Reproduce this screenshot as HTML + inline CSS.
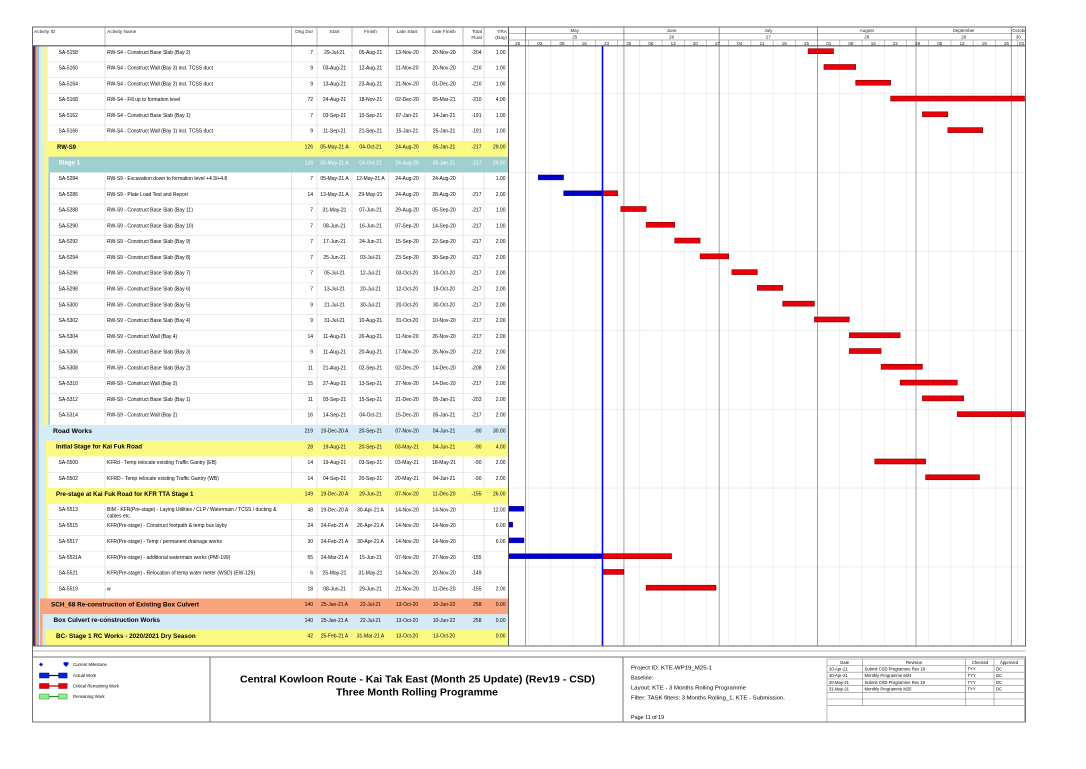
<!DOCTYPE html>
<html>
<head>
<meta charset="utf-8">
<style>
html,body{margin:0;padding:0;background:#fff;}
svg{display:block;}
text{font-family:"Liberation Sans",Arial,sans-serif;font-size:5px;fill:#000;}
.g{font-weight:bold;font-size:6.2px;}
.e{text-anchor:end;}
.m{text-anchor:middle;}
.h{font-size:4.8px;fill:#222;}
.gh{font-size:4.5px;fill:#222;}
.w{fill:#fff;}
.lg{font-size:4.3px;}
.pi{font-size:5.4px;}
.rv{font-size:4.2px;}
.tt{font-weight:bold;font-size:10px;}
</style>
</head>
<body>
<svg width="1086" height="769" viewBox="0 0 1086 769" xmlns="http://www.w3.org/2000/svg">
<rect x="0" y="0" width="1086" height="769" fill="#fff"/>

<!-- table vertical separators -->
<g stroke="#d4d4d4" stroke-width="0.6">
<line x1="105" y1="46" x2="105" y2="646"/>
<line x1="291.5" y1="46" x2="291.5" y2="646"/>
<line x1="317" y1="46" x2="317" y2="646"/>
<line x1="352" y1="46" x2="352" y2="646"/>
<line x1="388.5" y1="46" x2="388.5" y2="646"/>
<line x1="425" y1="46" x2="425" y2="646"/>
<line x1="463" y1="46" x2="463" y2="646"/>
<line x1="484" y1="46" x2="484" y2="646"/>
</g>
<!-- table row separators -->
<g stroke="#dadada" stroke-width="0.5">
<line x1="46" y1="61.98" x2="508.5" y2="61.98"/>
<line x1="46" y1="77.76" x2="508.5" y2="77.76"/>
<line x1="46" y1="93.54" x2="508.5" y2="93.54"/>
<line x1="46" y1="109.32" x2="508.5" y2="109.32"/>
<line x1="46" y1="125.1" x2="508.5" y2="125.1"/>
<line x1="46" y1="188.22" x2="508.5" y2="188.22"/>
<line x1="46" y1="204" x2="508.5" y2="204"/>
<line x1="46" y1="219.78" x2="508.5" y2="219.78"/>
<line x1="46" y1="235.56" x2="508.5" y2="235.56"/>
<line x1="46" y1="251.34" x2="508.5" y2="251.34"/>
<line x1="46" y1="267.12" x2="508.5" y2="267.12"/>
<line x1="46" y1="282.9" x2="508.5" y2="282.9"/>
<line x1="46" y1="298.68" x2="508.5" y2="298.68"/>
<line x1="46" y1="314.46" x2="508.5" y2="314.46"/>
<line x1="46" y1="330.24" x2="508.5" y2="330.24"/>
<line x1="46" y1="346.02" x2="508.5" y2="346.02"/>
<line x1="46" y1="361.8" x2="508.5" y2="361.8"/>
<line x1="46" y1="377.58" x2="508.5" y2="377.58"/>
<line x1="46" y1="393.36" x2="508.5" y2="393.36"/>
<line x1="46" y1="409.14" x2="508.5" y2="409.14"/>
<line x1="46" y1="472.26" x2="508.5" y2="472.26"/>
<line x1="46" y1="519.6" x2="508.5" y2="519.6"/>
<line x1="46" y1="535.38" x2="508.5" y2="535.38"/>
<line x1="46" y1="551.16" x2="508.5" y2="551.16"/>
<line x1="46" y1="566.94" x2="508.5" y2="566.94"/>
<line x1="46" y1="582.72" x2="508.5" y2="582.72"/>
</g>

<!-- group row backgrounds -->
<rect x="46.7" y="140.88" width="461.8" height="15.78" fill="#fbfb84"/>
<rect x="48.3" y="156.66" width="460.2" height="15.78" fill="#9fcfcf"/>
<rect x="42.7" y="424.92" width="465.8" height="15.78" fill="#d5ebf5"/>
<rect x="46" y="440.7" width="462.5" height="15.78" fill="#fbfb84"/>
<rect x="46" y="488.04" width="462.5" height="15.78" fill="#fbfb84"/>
<rect x="40" y="598.5" width="468.5" height="15.78" fill="#f9a47c"/>
<rect x="42.7" y="614.28" width="465.8" height="15.78" fill="#d5ebf5"/>
<rect x="46" y="630.06" width="462.5" height="15.78" fill="#fbfb84"/>

<!-- stripes -->
<rect x="32.5" y="46" width="2" height="600" fill="#25256f"/>
<rect x="34.5" y="46" width="1.2" height="600" fill="#8a3c5c"/>
<rect x="35.7" y="46" width="1.5" height="600" fill="#e3a57a"/>
<rect x="37.2" y="46" width="1.8" height="600" fill="#84c2ea"/>
<rect x="39" y="46" width="1" height="600" fill="#d3ecf7"/>
<rect x="40" y="46.2" width="2.7" height="552.3" fill="#d5ebf5"/>
<rect x="42.7" y="46.2" width="4" height="378.7" fill="#f4f49a"/>
<rect x="46.7" y="46.2" width="1" height="94.7" fill="#f4f49a"/>
<rect x="46.7" y="156.66" width="1.6" height="268.26" fill="#fbfb84"/>
<rect x="48.3" y="172.44" width="1.7" height="252.48" fill="#9fcfcf"/>
<rect x="42.7" y="440.7" width="3.3" height="157.8" fill="#d5ebf5"/>
<rect x="46" y="456.48" width="2.3" height="31.56" fill="#fbfb84"/>
<rect x="46" y="503.82" width="2.3" height="94.68" fill="#fbfb84"/>
<rect x="40" y="614.28" width="2.7" height="31.56" fill="#f9a47c"/>
<rect x="42.7" y="630.06" width="3.3" height="15.78" fill="#d5ebf5"/>

<!-- table rows text -->
<g transform="translate(0,46.2)"><text x="58.5" y="7.6">SA-5158</text><text x="107" y="7.6">RW-S4 - Construct Base Slab (Bay 2)</text><text class="e" x="313" y="7.6">7</text><text class="m" x="334.5" y="7.6">29-Jul-21</text><text class="m" x="370.5" y="7.6">05-Aug-21</text><text class="m" x="407" y="7.6">13-Nov-20</text><text class="m" x="444" y="7.6">20-Nov-20</text><text class="e" x="481.5" y="7.6">-204</text><text class="e" x="505.5" y="7.6">1.00</text></g>
<g transform="translate(0,61.98)"><text x="58.5" y="7.6">SA-5160</text><text x="107" y="7.6">RW-S4 - Construct Wall (Bay 3) incl. TCSS duct</text><text class="e" x="313" y="7.6">9</text><text class="m" x="334.5" y="7.6">03-Aug-21</text><text class="m" x="370.5" y="7.6">12-Aug-21</text><text class="m" x="407" y="7.6">11-Nov-20</text><text class="m" x="444" y="7.6">20-Nov-20</text><text class="e" x="481.5" y="7.6">-210</text><text class="e" x="505.5" y="7.6">1.00</text></g>
<g transform="translate(0,77.76)"><text x="58.5" y="7.6">SA-5164</text><text x="107" y="7.6">RW-S4 - Construct Wall (Bay 2) incl. TCSS duct</text><text class="e" x="313" y="7.6">9</text><text class="m" x="334.5" y="7.6">13-Aug-21</text><text class="m" x="370.5" y="7.6">23-Aug-21</text><text class="m" x="407" y="7.6">21-Nov-20</text><text class="m" x="444" y="7.6">01-Dec-20</text><text class="e" x="481.5" y="7.6">-210</text><text class="e" x="505.5" y="7.6">1.00</text></g>
<g transform="translate(0,93.54)"><text x="58.5" y="7.6">SA-5168</text><text x="107" y="7.6">RW-S4 - Fill up to formation level</text><text class="e" x="313" y="7.6">72</text><text class="m" x="334.5" y="7.6">24-Aug-21</text><text class="m" x="370.5" y="7.6">18-Nov-21</text><text class="m" x="407" y="7.6">02-Dec-20</text><text class="m" x="444" y="7.6">05-Mar-21</text><text class="e" x="481.5" y="7.6">-210</text><text class="e" x="505.5" y="7.6">4.00</text></g>
<g transform="translate(0,109.32)"><text x="58.5" y="7.6">SA-5162</text><text x="107" y="7.6">RW-S4 - Construct Base Slab (Bay 1)</text><text class="e" x="313" y="7.6">7</text><text class="m" x="334.5" y="7.6">03-Sep-21</text><text class="m" x="370.5" y="7.6">10-Sep-21</text><text class="m" x="407" y="7.6">07-Jan-21</text><text class="m" x="444" y="7.6">14-Jan-21</text><text class="e" x="481.5" y="7.6">-191</text><text class="e" x="505.5" y="7.6">1.00</text></g>
<g transform="translate(0,125.1)"><text x="58.5" y="7.6">SA-5166</text><text x="107" y="7.6">RW-S4 - Construct Wall (Bay 1) incl. TCSS duct</text><text class="e" x="313" y="7.6">9</text><text class="m" x="334.5" y="7.6">11-Sep-21</text><text class="m" x="370.5" y="7.6">21-Sep-21</text><text class="m" x="407" y="7.6">15-Jan-21</text><text class="m" x="444" y="7.6">25-Jan-21</text><text class="e" x="481.5" y="7.6">-191</text><text class="e" x="505.5" y="7.6">1.00</text></g>
<g transform="translate(0,140.88)"><text class="g" x="57" y="7.9" textLength="19" lengthAdjust="spacingAndGlyphs">RW-S9</text><text class="e" x="313" y="7.6">126</text><text class="m" x="334.5" y="7.6">05-May-21 A</text><text class="m" x="370.5" y="7.6">04-Oct-21</text><text class="m" x="407" y="7.6">24-Aug-20</text><text class="m" x="444" y="7.6">05-Jan-21</text><text class="e" x="481.5" y="7.6">-217</text><text class="e" x="505.5" y="7.6">29.00</text></g>
<g transform="translate(0,156.66)"><text class="g w" x="58.5" y="7.9" textLength="21.5" lengthAdjust="spacingAndGlyphs">Stage 1</text><text class="e w" x="313" y="7.6">126</text><text class="m w" x="334.5" y="7.6">05-May-21 A</text><text class="m w" x="370.5" y="7.6">04-Oct-21</text><text class="m w" x="407" y="7.6">24-Aug-20</text><text class="m w" x="444" y="7.6">05-Jan-21</text><text class="e w" x="481.5" y="7.6">-217</text><text class="e w" x="505.5" y="7.6">29.00</text></g>
<g transform="translate(0,172.44)"><text x="58.5" y="7.6">SA-5284</text><text x="107" y="7.6">RW-S9 - Excavation down to formation level +4.3/+4.8</text><text class="e" x="313" y="7.6">7</text><text class="m" x="334.5" y="7.6">05-May-21 A</text><text class="m" x="370.5" y="7.6">12-May-21 A</text><text class="m" x="407" y="7.6">24-Aug-20</text><text class="m" x="444" y="7.6">24-Aug-20</text><text class="e" x="505.5" y="7.6">1.00</text></g>
<g transform="translate(0,188.22)"><text x="58.5" y="7.6">SA-5286</text><text x="107" y="7.6">RW-S9 - Plate Load Test and Report</text><text class="e" x="313" y="7.6">14</text><text class="m" x="334.5" y="7.6">13-May-21 A</text><text class="m" x="370.5" y="7.6">29-May-21</text><text class="m" x="407" y="7.6">24-Aug-20</text><text class="m" x="444" y="7.6">28-Aug-20</text><text class="e" x="481.5" y="7.6">-217</text><text class="e" x="505.5" y="7.6">2.00</text></g>
<g transform="translate(0,204)"><text x="58.5" y="7.6">SA-5288</text><text x="107" y="7.6">RW-S9 - Construct Base Slab (Bay 11)</text><text class="e" x="313" y="7.6">7</text><text class="m" x="334.5" y="7.6">31-May-21</text><text class="m" x="370.5" y="7.6">07-Jun-21</text><text class="m" x="407" y="7.6">29-Aug-20</text><text class="m" x="444" y="7.6">05-Sep-20</text><text class="e" x="481.5" y="7.6">-217</text><text class="e" x="505.5" y="7.6">1.00</text></g>
<g transform="translate(0,219.78)"><text x="58.5" y="7.6">SA-5290</text><text x="107" y="7.6">RW-S9 - Construct Base Slab (Bay 10)</text><text class="e" x="313" y="7.6">7</text><text class="m" x="334.5" y="7.6">08-Jun-21</text><text class="m" x="370.5" y="7.6">16-Jun-21</text><text class="m" x="407" y="7.6">07-Sep-20</text><text class="m" x="444" y="7.6">14-Sep-20</text><text class="e" x="481.5" y="7.6">-217</text><text class="e" x="505.5" y="7.6">1.00</text></g>
<g transform="translate(0,235.56)"><text x="58.5" y="7.6">SA-5292</text><text x="107" y="7.6">RW-S9 - Construct Base Slab (Bay 9)</text><text class="e" x="313" y="7.6">7</text><text class="m" x="334.5" y="7.6">17-Jun-21</text><text class="m" x="370.5" y="7.6">24-Jun-21</text><text class="m" x="407" y="7.6">15-Sep-20</text><text class="m" x="444" y="7.6">22-Sep-20</text><text class="e" x="481.5" y="7.6">-217</text><text class="e" x="505.5" y="7.6">2.00</text></g>
<g transform="translate(0,251.34)"><text x="58.5" y="7.6">SA-5294</text><text x="107" y="7.6">RW-S9 - Construct Base Slab (Bay 8)</text><text class="e" x="313" y="7.6">7</text><text class="m" x="334.5" y="7.6">25-Jun-21</text><text class="m" x="370.5" y="7.6">03-Jul-21</text><text class="m" x="407" y="7.6">23-Sep-20</text><text class="m" x="444" y="7.6">30-Sep-20</text><text class="e" x="481.5" y="7.6">-217</text><text class="e" x="505.5" y="7.6">2.00</text></g>
<g transform="translate(0,267.12)"><text x="58.5" y="7.6">SA-5296</text><text x="107" y="7.6">RW-S9 - Construct Base Slab (Bay 7)</text><text class="e" x="313" y="7.6">7</text><text class="m" x="334.5" y="7.6">05-Jul-21</text><text class="m" x="370.5" y="7.6">12-Jul-21</text><text class="m" x="407" y="7.6">03-Oct-20</text><text class="m" x="444" y="7.6">10-Oct-20</text><text class="e" x="481.5" y="7.6">-217</text><text class="e" x="505.5" y="7.6">2.00</text></g>
<g transform="translate(0,282.9)"><text x="58.5" y="7.6">SA-5298</text><text x="107" y="7.6">RW-S9 - Construct Base Slab (Bay 6)</text><text class="e" x="313" y="7.6">7</text><text class="m" x="334.5" y="7.6">13-Jul-21</text><text class="m" x="370.5" y="7.6">20-Jul-21</text><text class="m" x="407" y="7.6">12-Oct-20</text><text class="m" x="444" y="7.6">19-Oct-20</text><text class="e" x="481.5" y="7.6">-217</text><text class="e" x="505.5" y="7.6">2.00</text></g>
<g transform="translate(0,298.68)"><text x="58.5" y="7.6">SA-5300</text><text x="107" y="7.6">RW-S9 - Construct Base Slab (Bay 5)</text><text class="e" x="313" y="7.6">9</text><text class="m" x="334.5" y="7.6">21-Jul-21</text><text class="m" x="370.5" y="7.6">30-Jul-21</text><text class="m" x="407" y="7.6">20-Oct-20</text><text class="m" x="444" y="7.6">30-Oct-20</text><text class="e" x="481.5" y="7.6">-217</text><text class="e" x="505.5" y="7.6">2.00</text></g>
<g transform="translate(0,314.46)"><text x="58.5" y="7.6">SA-5302</text><text x="107" y="7.6">RW-S9 - Construct Base Slab (Bay 4)</text><text class="e" x="313" y="7.6">9</text><text class="m" x="334.5" y="7.6">31-Jul-21</text><text class="m" x="370.5" y="7.6">10-Aug-21</text><text class="m" x="407" y="7.6">31-Oct-20</text><text class="m" x="444" y="7.6">10-Nov-20</text><text class="e" x="481.5" y="7.6">-217</text><text class="e" x="505.5" y="7.6">2.00</text></g>
<g transform="translate(0,330.24)"><text x="58.5" y="7.6">SA-5304</text><text x="107" y="7.6">RW-S9 - Construct Wall (Bay 4)</text><text class="e" x="313" y="7.6">14</text><text class="m" x="334.5" y="7.6">11-Aug-21</text><text class="m" x="370.5" y="7.6">26-Aug-21</text><text class="m" x="407" y="7.6">11-Nov-20</text><text class="m" x="444" y="7.6">26-Nov-20</text><text class="e" x="481.5" y="7.6">-217</text><text class="e" x="505.5" y="7.6">2.00</text></g>
<g transform="translate(0,346.02)"><text x="58.5" y="7.6">SA-5306</text><text x="107" y="7.6">RW-S9 - Construct Base Slab (Bay 3)</text><text class="e" x="313" y="7.6">9</text><text class="m" x="334.5" y="7.6">11-Aug-21</text><text class="m" x="370.5" y="7.6">20-Aug-21</text><text class="m" x="407" y="7.6">17-Nov-20</text><text class="m" x="444" y="7.6">26-Nov-20</text><text class="e" x="481.5" y="7.6">-212</text><text class="e" x="505.5" y="7.6">2.00</text></g>
<g transform="translate(0,361.8)"><text x="58.5" y="7.6">SA-5308</text><text x="107" y="7.6">RW-S9 - Construct Base Slab (Bay 2)</text><text class="e" x="313" y="7.6">11</text><text class="m" x="334.5" y="7.6">21-Aug-21</text><text class="m" x="370.5" y="7.6">02-Sep-21</text><text class="m" x="407" y="7.6">02-Dec-20</text><text class="m" x="444" y="7.6">14-Dec-20</text><text class="e" x="481.5" y="7.6">-208</text><text class="e" x="505.5" y="7.6">2.00</text></g>
<g transform="translate(0,377.58)"><text x="58.5" y="7.6">SA-5310</text><text x="107" y="7.6">RW-S9 - Construct Wall (Bay 3)</text><text class="e" x="313" y="7.6">15</text><text class="m" x="334.5" y="7.6">27-Aug-21</text><text class="m" x="370.5" y="7.6">13-Sep-21</text><text class="m" x="407" y="7.6">27-Nov-20</text><text class="m" x="444" y="7.6">14-Dec-20</text><text class="e" x="481.5" y="7.6">-217</text><text class="e" x="505.5" y="7.6">2.00</text></g>
<g transform="translate(0,393.36)"><text x="58.5" y="7.6">SA-5312</text><text x="107" y="7.6">RW-S9 - Construct Base Slab (Bay 1)</text><text class="e" x="313" y="7.6">11</text><text class="m" x="334.5" y="7.6">03-Sep-21</text><text class="m" x="370.5" y="7.6">15-Sep-21</text><text class="m" x="407" y="7.6">21-Dec-20</text><text class="m" x="444" y="7.6">05-Jan-21</text><text class="e" x="481.5" y="7.6">-203</text><text class="e" x="505.5" y="7.6">2.00</text></g>
<g transform="translate(0,409.14)"><text x="58.5" y="7.6">SA-5314</text><text x="107" y="7.6">RW-S9 - Construct Wall (Bay 2)</text><text class="e" x="313" y="7.6">16</text><text class="m" x="334.5" y="7.6">14-Sep-21</text><text class="m" x="370.5" y="7.6">04-Oct-21</text><text class="m" x="407" y="7.6">15-Dec-20</text><text class="m" x="444" y="7.6">05-Jan-21</text><text class="e" x="481.5" y="7.6">-217</text><text class="e" x="505.5" y="7.6">2.00</text></g>
<g transform="translate(0,424.92)"><text class="g" x="53" y="7.9" textLength="39" lengthAdjust="spacingAndGlyphs">Road Works</text><text class="e" x="313" y="7.6">219</text><text class="m" x="334.5" y="7.6">19-Dec-20 A</text><text class="m" x="370.5" y="7.6">20-Sep-21</text><text class="m" x="407" y="7.6">07-Nov-20</text><text class="m" x="444" y="7.6">04-Jun-21</text><text class="e" x="481.5" y="7.6">-90</text><text class="e" x="505.5" y="7.6">30.00</text></g>
<g transform="translate(0,440.7)"><text class="g" x="56" y="7.9" textLength="86" lengthAdjust="spacingAndGlyphs">Initial Stage for Kai Fuk Road</text><text class="e" x="313" y="7.6">28</text><text class="m" x="334.5" y="7.6">19-Aug-21</text><text class="m" x="370.5" y="7.6">20-Sep-21</text><text class="m" x="407" y="7.6">03-May-21</text><text class="m" x="444" y="7.6">04-Jun-21</text><text class="e" x="481.5" y="7.6">-90</text><text class="e" x="505.5" y="7.6">4.00</text></g>
<g transform="translate(0,456.48)"><text x="58.5" y="7.6">SA-5500</text><text x="107" y="7.6">KFRd - Temp relocate existing Traffic Gantry (EB)</text><text class="e" x="313" y="7.6">14</text><text class="m" x="334.5" y="7.6">19-Aug-21</text><text class="m" x="370.5" y="7.6">03-Sep-21</text><text class="m" x="407" y="7.6">03-May-21</text><text class="m" x="444" y="7.6">18-May-21</text><text class="e" x="481.5" y="7.6">-90</text><text class="e" x="505.5" y="7.6">2.00</text></g>
<g transform="translate(0,472.26)"><text x="58.5" y="7.6">SA-5502</text><text x="107" y="7.6">KFRD - Temp relocate existing Traffic Gantry (WB)</text><text class="e" x="313" y="7.6">14</text><text class="m" x="334.5" y="7.6">04-Sep-21</text><text class="m" x="370.5" y="7.6">20-Sep-21</text><text class="m" x="407" y="7.6">20-May-21</text><text class="m" x="444" y="7.6">04-Jun-21</text><text class="e" x="481.5" y="7.6">-90</text><text class="e" x="505.5" y="7.6">2.00</text></g>
<g transform="translate(0,488.04)"><text class="g" x="56" y="7.9" textLength="137.5" lengthAdjust="spacingAndGlyphs">Pre-stage at Kai Fuk Road for KFR TTA Stage 1</text><text class="e" x="313" y="7.6">149</text><text class="m" x="334.5" y="7.6">19-Dec-20 A</text><text class="m" x="370.5" y="7.6">29-Jun-21</text><text class="m" x="407" y="7.6">07-Nov-20</text><text class="m" x="444" y="7.6">11-Dec-20</text><text class="e" x="481.5" y="7.6">-155</text><text class="e" x="505.5" y="7.6">26.00</text></g>
<g transform="translate(0,503.82)"><text x="58.5" y="7.4">SA-5513</text><text x="107" y="7.4">BIM - KFR(Pre-stage) - Laying Utilities / CLP / Watermain / TCSS / ducting &amp;</text><text x="107" y="13.9">cables etc.</text><text class="e" x="313" y="7.6">48</text><text class="m" x="334.5" y="7.6">19-Dec-20 A</text><text class="m" x="370.5" y="7.6">30-Apr-21 A</text><text class="m" x="407" y="7.6">14-Nov-20</text><text class="m" x="444" y="7.6">14-Nov-20</text><text class="e" x="505.5" y="7.6">12.00</text></g>
<g transform="translate(0,519.6)"><text x="58.5" y="7.6">SA-5515</text><text x="107" y="7.6">KFR(Pre-stage) - Construct footpath &amp; temp bus layby</text><text class="e" x="313" y="7.6">24</text><text class="m" x="334.5" y="7.6">24-Feb-21 A</text><text class="m" x="370.5" y="7.6">26-Apr-21 A</text><text class="m" x="407" y="7.6">14-Nov-20</text><text class="m" x="444" y="7.6">14-Nov-20</text><text class="e" x="505.5" y="7.6">6.00</text></g>
<g transform="translate(0,535.38)"><text x="58.5" y="7.6">SA-5517</text><text x="107" y="7.6">KFR(Pre-stage) - Temp / permanent drainage works</text><text class="e" x="313" y="7.6">30</text><text class="m" x="334.5" y="7.6">24-Feb-21 A</text><text class="m" x="370.5" y="7.6">30-Apr-21 A</text><text class="m" x="407" y="7.6">14-Nov-20</text><text class="m" x="444" y="7.6">14-Nov-20</text><text class="e" x="505.5" y="7.6">6.00</text></g>
<g transform="translate(0,551.16)"><text x="58.5" y="7.6">SA-5521A</text><text x="107" y="7.6">KFR(Pre-stage) - additional watermain works (PMI-199)</text><text class="e" x="313" y="7.6">55</text><text class="m" x="334.5" y="7.6">24-Mar-21 A</text><text class="m" x="370.5" y="7.6">15-Jun-21</text><text class="m" x="407" y="7.6">07-Nov-20</text><text class="m" x="444" y="7.6">27-Nov-20</text><text class="e" x="481.5" y="7.6">-155</text></g>
<g transform="translate(0,566.94)"><text x="58.5" y="7.6">SA-5521</text><text x="107" y="7.6">KFR(Pre-stage) - Relocation of temp water meter (WSD) (EW-129)</text><text class="e" x="313" y="7.6">6</text><text class="m" x="334.5" y="7.6">25-May-21</text><text class="m" x="370.5" y="7.6">31-May-21</text><text class="m" x="407" y="7.6">14-Nov-20</text><text class="m" x="444" y="7.6">20-Nov-20</text><text class="e" x="481.5" y="7.6">-149</text></g>
<g transform="translate(0,582.72)"><text x="58.5" y="7.6">SA-5519</text><text x="107" y="7.6">w</text><text class="e" x="313" y="7.6">18</text><text class="m" x="334.5" y="7.6">08-Jun-21</text><text class="m" x="370.5" y="7.6">29-Jun-21</text><text class="m" x="407" y="7.6">21-Nov-20</text><text class="m" x="444" y="7.6">11-Dec-20</text><text class="e" x="481.5" y="7.6">-155</text><text class="e" x="505.5" y="7.6">2.00</text></g>
<g transform="translate(0,598.5)"><text class="g" x="51" y="7.9" textLength="148" lengthAdjust="spacingAndGlyphs">SCH_68 Re-construction of Existing Box Culvert</text><text class="e" x="313" y="7.6">140</text><text class="m" x="334.5" y="7.6">25-Jan-21 A</text><text class="m" x="370.5" y="7.6">22-Jul-21</text><text class="m" x="407" y="7.6">13-Oct-20</text><text class="m" x="444" y="7.6">10-Jun-22</text><text class="e" x="481.5" y="7.6">258</text><text class="e" x="505.5" y="7.6">0.00</text></g>
<g transform="translate(0,614.28)"><text class="g" x="53.5" y="7.9" textLength="106.5" lengthAdjust="spacingAndGlyphs">Box Culvert re-construction Works</text><text class="e" x="313" y="7.6">140</text><text class="m" x="334.5" y="7.6">25-Jan-21 A</text><text class="m" x="370.5" y="7.6">22-Jul-21</text><text class="m" x="407" y="7.6">13-Oct-20</text><text class="m" x="444" y="7.6">10-Jun-22</text><text class="e" x="481.5" y="7.6">258</text><text class="e" x="505.5" y="7.6">0.00</text></g>
<g transform="translate(0,630.06)"><text class="g" x="56" y="7.9" textLength="139.7" lengthAdjust="spacingAndGlyphs">BC- Stage 1 RC Works - 2020/2021 Dry Season</text><text class="e" x="313" y="7.6">42</text><text class="m" x="334.5" y="7.6">25-Feb-21 A</text><text class="m" x="370.5" y="7.6">31-Mar-21 A</text><text class="m" x="407" y="7.6">13-Oct-20</text><text class="m" x="444" y="7.6">13-Oct-20</text><text class="e" x="505.5" y="7.6">0.00</text></g>

<!-- gantt grid: week lines -->
<g stroke="#e2e2e2" stroke-width="0.5">
<line x1="528.68" y1="46" x2="528.68" y2="646"/>
<line x1="550.9" y1="46" x2="550.9" y2="646"/>
<line x1="573.13" y1="46" x2="573.13" y2="646"/>
<line x1="595.35" y1="46" x2="595.35" y2="646"/>
<line x1="617.58" y1="46" x2="617.58" y2="646"/>
<line x1="639.8" y1="46" x2="639.8" y2="646"/>
<line x1="662.03" y1="46" x2="662.03" y2="646"/>
<line x1="684.25" y1="46" x2="684.25" y2="646"/>
<line x1="706.48" y1="46" x2="706.48" y2="646"/>
<line x1="728.7" y1="46" x2="728.7" y2="646"/>
<line x1="750.93" y1="46" x2="750.93" y2="646"/>
<line x1="773.15" y1="46" x2="773.15" y2="646"/>
<line x1="795.38" y1="46" x2="795.38" y2="646"/>
<line x1="817.6" y1="46" x2="817.6" y2="646"/>
<line x1="839.83" y1="46" x2="839.83" y2="646"/>
<line x1="862.05" y1="46" x2="862.05" y2="646"/>
<line x1="884.28" y1="46" x2="884.28" y2="646"/>
<line x1="906.5" y1="46" x2="906.5" y2="646"/>
<line x1="928.73" y1="46" x2="928.73" y2="646"/>
<line x1="950.95" y1="46" x2="950.95" y2="646"/>
<line x1="973.18" y1="46" x2="973.18" y2="646"/>
<line x1="995.4" y1="46" x2="995.4" y2="646"/>
<line x1="1017.63" y1="46" x2="1017.63" y2="646"/>
</g>
<!-- horizontal every 5 rows -->
<g stroke="#dedede" stroke-width="0.5">
<line x1="508.5" y1="93.54" x2="1025.5" y2="93.54"/>
<line x1="508.5" y1="172.44" x2="1025.5" y2="172.44"/>
<line x1="508.5" y1="251.34" x2="1025.5" y2="251.34"/>
<line x1="508.5" y1="330.24" x2="1025.5" y2="330.24"/>
<line x1="508.5" y1="409.14" x2="1025.5" y2="409.14"/>
<line x1="508.5" y1="488.04" x2="1025.5" y2="488.04"/>
<line x1="508.5" y1="566.94" x2="1025.5" y2="566.94"/>
</g>
<!-- month lines -->
<g stroke="#8c8c8c" stroke-width="0.8">
<line x1="525.5" y1="27" x2="525.5" y2="646"/>
<line x1="623.93" y1="27" x2="623.93" y2="646"/>
<line x1="719.18" y1="27" x2="719.18" y2="646"/>
<line x1="817.6" y1="27" x2="817.6" y2="646"/>
<line x1="916.03" y1="27" x2="916.03" y2="646"/>
<line x1="1011.28" y1="27" x2="1011.28" y2="646"/>
</g>

<!-- bars -->
<g fill="#e8000a" stroke="#8a0000" stroke-width="0.6">
<rect x="808.1" y="48.7" width="25.4" height="5"/>
<rect x="823.95" y="64.48" width="31.75" height="5"/>
<rect x="855.7" y="80.26" width="34.9" height="5"/>
<rect x="890.6" y="96.04" width="133.9" height="5"/>
<rect x="922.4" y="111.82" width="25.4" height="5"/>
<rect x="947.8" y="127.6" width="34.9" height="5"/>
<rect x="602.5" y="190.72" width="15.1" height="5"/>
<rect x="620.75" y="206.5" width="25.4" height="5"/>
<rect x="646.15" y="222.28" width="28.55" height="5"/>
<rect x="674.7" y="238.06" width="25.4" height="5"/>
<rect x="700.1" y="253.84" width="28.6" height="5"/>
<rect x="731.9" y="269.62" width="25.4" height="5"/>
<rect x="757.3" y="285.4" width="25.4" height="5"/>
<rect x="782.7" y="301.18" width="31.7" height="5"/>
<rect x="814.4" y="316.96" width="34.95" height="5"/>
<rect x="849.35" y="332.74" width="50.8" height="5"/>
<rect x="849.35" y="348.52" width="31.75" height="5"/>
<rect x="881.1" y="364.3" width="41.3" height="5"/>
<rect x="900.15" y="380.08" width="57.15" height="5"/>
<rect x="922.4" y="395.86" width="41.25" height="5"/>
<rect x="957.3" y="411.64" width="67.2" height="5"/>
<rect x="874.75" y="458.98" width="50.85" height="5"/>
<rect x="925.6" y="474.76" width="53.9" height="5"/>
<rect x="602.5" y="553.66" width="69.05" height="5"/>
<rect x="602.5" y="569.44" width="21.4" height="5"/>
<rect x="646.15" y="585.22" width="69.85" height="5"/>
</g>
<g fill="#0000c8" stroke="#00008a" stroke-width="0.4">
<rect x="538.2" y="174.94" width="25.4" height="5"/>
<rect x="563.6" y="190.72" width="38.9" height="5"/>
<rect x="509" y="506.32" width="15" height="5"/>
<rect x="509" y="522.1" width="3.8" height="5"/>
<rect x="509" y="537.88" width="15" height="5"/>
<rect x="509" y="553.66" width="93.5" height="5"/>
</g>

<!-- data date -->
<line x1="602.5" y1="46" x2="602.5" y2="646" stroke="#0000ff" stroke-width="1.6"/>

<!-- header -->
<rect x="32.5" y="27" width="993" height="19" fill="#fff"/>
<g stroke="#9a9a9a" stroke-width="0.7">
<line x1="105" y1="27" x2="105" y2="46"/>
<line x1="291.5" y1="27" x2="291.5" y2="46"/>
<line x1="317" y1="27" x2="317" y2="46"/>
<line x1="352" y1="27" x2="352" y2="46"/>
<line x1="388.5" y1="27" x2="388.5" y2="46"/>
<line x1="425" y1="27" x2="425" y2="46"/>
<line x1="463" y1="27" x2="463" y2="46"/>
<line x1="484" y1="27" x2="484" y2="46"/>
<line x1="508.5" y1="33.5" x2="1025.5" y2="33.5"/>
<line x1="508.5" y1="40" x2="1025.5" y2="40"/>
</g>
<g stroke="#7a7a7a" stroke-width="0.8">
<line x1="525.5" y1="27" x2="525.5" y2="46"/>
<line x1="623.93" y1="27" x2="623.93" y2="46"/>
<line x1="719.18" y1="27" x2="719.18" y2="46"/>
<line x1="817.6" y1="27" x2="817.6" y2="46"/>
<line x1="916.03" y1="27" x2="916.03" y2="46"/>
<line x1="1011.28" y1="27" x2="1011.28" y2="46"/>
</g>
<g stroke="#9a9a9a" stroke-width="0.6">
<line x1="528.68" y1="40" x2="528.68" y2="46"/>
<line x1="550.9" y1="40" x2="550.9" y2="46"/>
<line x1="573.13" y1="40" x2="573.13" y2="46"/>
<line x1="595.35" y1="40" x2="595.35" y2="46"/>
<line x1="617.58" y1="40" x2="617.58" y2="46"/>
<line x1="639.8" y1="40" x2="639.8" y2="46"/>
<line x1="662.03" y1="40" x2="662.03" y2="46"/>
<line x1="684.25" y1="40" x2="684.25" y2="46"/>
<line x1="706.48" y1="40" x2="706.48" y2="46"/>
<line x1="728.7" y1="40" x2="728.7" y2="46"/>
<line x1="750.93" y1="40" x2="750.93" y2="46"/>
<line x1="773.15" y1="40" x2="773.15" y2="46"/>
<line x1="795.38" y1="40" x2="795.38" y2="46"/>
<line x1="839.83" y1="40" x2="839.83" y2="46"/>
<line x1="862.05" y1="40" x2="862.05" y2="46"/>
<line x1="884.28" y1="40" x2="884.28" y2="46"/>
<line x1="906.5" y1="40" x2="906.5" y2="46"/>
<line x1="928.73" y1="40" x2="928.73" y2="46"/>
<line x1="950.95" y1="40" x2="950.95" y2="46"/>
<line x1="973.18" y1="40" x2="973.18" y2="46"/>
<line x1="995.4" y1="40" x2="995.4" y2="46"/>
<line x1="1017.63" y1="40" x2="1017.63" y2="46"/>
</g>
<line x1="32.5" y1="45.8" x2="1025.5" y2="45.8" stroke="#555" stroke-width="1.1"/>
<text class="h" x="34" y="33">Activity ID</text>
<text class="h" x="107" y="33">Activity Name</text>
<text class="h m" x="304" y="33">Orig Dur</text>
<text class="h m" x="334.5" y="33">Start</text>
<text class="h m" x="370.5" y="33">Finish</text>
<text class="h m" x="407" y="33">Late Start</text>
<text class="h m" x="444" y="33">Late Finish</text>
<text class="h e" x="482" y="33">Total</text>
<text class="h e" x="482" y="39">Float</text>
<text class="h e" x="507" y="33">TRA</text>
<text class="h e" x="507" y="39">(Day)</text>

<text class="gh m" x="574.7" y="32">May</text>
<text class="gh m" x="671.6" y="32">June</text>
<text class="gh m" x="768.4" y="32">July</text>
<text class="gh m" x="866.8" y="32">August</text>
<text class="gh m" x="963.7" y="32">September</text>
<svg x="1011.3" y="27" width="14" height="7"><text class="gh" x="1" y="5">October</text></svg>
<text class="gh m" x="574.7" y="38.5">25</text>
<text class="gh m" x="671.6" y="38.5">26</text>
<text class="gh m" x="768.4" y="38.5">27</text>
<text class="gh m" x="866.8" y="38.5">28</text>
<text class="gh m" x="963.7" y="38.5">29</text>
<text class="gh m" x="1018.4" y="38.5">30</text>
<g class="gh">
<text class="gh m" x="517.6" y="44.9">25</text>
<text class="gh m" x="539.8" y="44.9">02</text>
<text class="gh m" x="562" y="44.9">09</text>
<text class="gh m" x="584.2" y="44.9">16</text>
<text class="gh m" x="606.5" y="44.9">23</text>
<text class="gh m" x="628.7" y="44.9">30</text>
<text class="gh m" x="650.9" y="44.9">06</text>
<text class="gh m" x="673.1" y="44.9">13</text>
<text class="gh m" x="695.4" y="44.9">20</text>
<text class="gh m" x="717.6" y="44.9">27</text>
<text class="gh m" x="739.8" y="44.9">04</text>
<text class="gh m" x="762" y="44.9">11</text>
<text class="gh m" x="784.3" y="44.9">18</text>
<text class="gh m" x="806.5" y="44.9">25</text>
<text class="gh m" x="828.7" y="44.9">01</text>
<text class="gh m" x="850.9" y="44.9">08</text>
<text class="gh m" x="873.2" y="44.9">15</text>
<text class="gh m" x="895.4" y="44.9">22</text>
<text class="gh m" x="917.6" y="44.9">29</text>
<text class="gh m" x="939.8" y="44.9">05</text>
<text class="gh m" x="962.1" y="44.9">12</text>
<text class="gh m" x="984.3" y="44.9">19</text>
<text class="gh m" x="1006.5" y="44.9">26</text>
<text class="gh m" x="1021.5" y="44.9">03</text>
</g>

<!-- frame -->
<line x1="508.5" y1="27" x2="508.5" y2="646" stroke="#555" stroke-width="1"/>
<rect x="32.5" y="27" width="993" height="619" fill="none" stroke="#6a6a6a" stroke-width="1"/>
<line x1="32.5" y1="651" x2="1025.5" y2="651" stroke="#9a9a9a" stroke-width="0.8"/>
<line x1="32.5" y1="646" x2="32.5" y2="657" stroke="#6a6a6a" stroke-width="1"/>

<!-- footer -->
<rect x="32.5" y="657" width="993" height="65" fill="#fff" stroke="#777" stroke-width="1"/>
<line x1="210" y1="657" x2="210" y2="722" stroke="#777" stroke-width="1"/>
<line x1="623" y1="657" x2="623" y2="722" stroke="#777" stroke-width="1"/>

<!-- legend -->
<polygon points="41,662.5 43,664.5 41,666.5 39,664.5" fill="#1010c0"/>
<polygon points="63.5,662.3 68.5,662.3 68.5,664.3 66,667 63.5,664.3" fill="#1010c0"/>
<text class="lg" x="73" y="666">Current Milestone</text>
<rect x="39.5" y="673" width="9.5" height="5" fill="#0022dd" stroke="#00008a" stroke-width="0.5"/>
<line x1="49" y1="675.5" x2="58.6" y2="675.5" stroke="#00008a" stroke-width="1.2"/>
<rect x="58.6" y="673" width="8.5" height="5" fill="#0022dd" stroke="#00008a" stroke-width="0.5"/>
<text class="lg" x="73" y="677">Actual Work</text>
<rect x="39.5" y="683.5" width="9.5" height="5" fill="#e8000a" stroke="#8a0000" stroke-width="0.5"/>
<line x1="49" y1="686" x2="58.6" y2="686" stroke="#8a0000" stroke-width="1.2"/>
<rect x="58.6" y="683.5" width="8.5" height="5" fill="#e8000a" stroke="#8a0000" stroke-width="0.5"/>
<text class="lg" x="73" y="687.5">Critical Remaining Work</text>
<rect x="39.5" y="694" width="9.5" height="5" fill="#90ee90" stroke="#2a8a2a" stroke-width="0.5"/>
<line x1="49" y1="696.5" x2="58.6" y2="696.5" stroke="#2a8a2a" stroke-width="1.2"/>
<rect x="58.6" y="694" width="8.5" height="5" fill="#90ee90" stroke="#2a8a2a" stroke-width="0.5"/>
<text class="lg" x="73" y="698">Remaining Work</text>

<!-- title -->
<text class="tt m" x="417.5" y="682.5" textLength="355" lengthAdjust="spacingAndGlyphs">Central Kowloon Route - Kai Tak East (Month 25 Update) (Rev19 - CSD)</text>
<text class="tt m" x="417" y="695.5" textLength="162" lengthAdjust="spacingAndGlyphs">Three Month Rolling Programme</text>

<!-- project info -->
<text class="pi" x="631" y="669.5" textLength="81" lengthAdjust="spacingAndGlyphs">Project ID: KTE-WP19_M25-1</text>
<text class="pi" x="631" y="679.5">Baseline:</text>
<text class="pi" x="631" y="689.5" textLength="115" lengthAdjust="spacingAndGlyphs">Layout: KTE - 3 Months Rolling Programme</text>
<text class="pi" x="631" y="699.5" textLength="154" lengthAdjust="spacingAndGlyphs">Filter: TASK filters: 3 Months Rolling_1, KTE - Submission.</text>
<text class="pi" x="631" y="719">Page 11 of 19</text>

<!-- revision table -->
<g stroke="#888" stroke-width="0.6" fill="none">
<line x1="827" y1="659" x2="1024.5" y2="659"/>
<line x1="827" y1="665.5" x2="1024.5" y2="665.5"/>
<line x1="827" y1="672.2" x2="1024.5" y2="672.2"/>
<line x1="827" y1="678.9" x2="1024.5" y2="678.9"/>
<line x1="827" y1="685.6" x2="1024.5" y2="685.6"/>
<line x1="827" y1="692.3" x2="1024.5" y2="692.3"/>
<line x1="827" y1="699" x2="1024.5" y2="699"/>
<line x1="827" y1="705.7" x2="1024.5" y2="705.7"/>
<line x1="827" y1="659" x2="827" y2="722"/>
<line x1="862.5" y1="659" x2="862.5" y2="705.7"/>
<line x1="965.5" y1="659" x2="965.5" y2="705.7"/>
<line x1="994" y1="659" x2="994" y2="705.7"/>
<line x1="1024.5" y1="659" x2="1024.5" y2="722"/>
</g>
<text class="rv m" x="844.7" y="664">Date</text>
<text class="rv m" x="914" y="664">Revision</text>
<text class="rv m" x="980" y="664">Checked</text>
<text class="rv m" x="1009" y="664">Approved</text>
<text class="rv" x="829" y="670.5">20-Apr-21</text><text class="rv" x="864.5" y="670.5">Submit CSD Programme Rev 18</text><text class="rv" x="967.5" y="670.5">TYY</text><text class="rv" x="996" y="670.5">DC</text>
<text class="rv" x="829" y="677.2">30-Apr-21</text><text class="rv" x="864.5" y="677.2">Monthly Programme M24</text><text class="rv" x="967.5" y="677.2">TYY</text><text class="rv" x="996" y="677.2">DC</text>
<text class="rv" x="829" y="683.9">20-May-21</text><text class="rv" x="864.5" y="683.9">Submit CSD Programme Rev 19</text><text class="rv" x="967.5" y="683.9">TYY</text><text class="rv" x="996" y="683.9">DC</text>
<text class="rv" x="829" y="690.6">31-May-21</text><text class="rv" x="864.5" y="690.6">Monthly Programme M25</text><text class="rv" x="967.5" y="690.6">TYY</text><text class="rv" x="996" y="690.6">DC</text>
</svg>
</body>
</html>
